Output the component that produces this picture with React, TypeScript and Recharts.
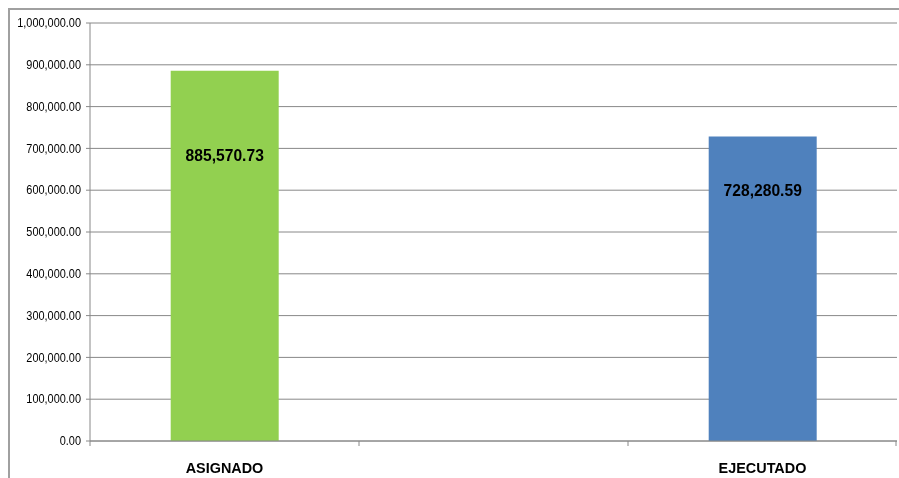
import { BarChart, Bar, XAxis, YAxis, CartesianGrid, Cell, LabelList } from 'recharts';

const categories = ['ASIGNADO', '', 'EJECUTADO'];
const amounts = [885570.73, null, 728280.59];
const barColors = ['#92d050', '#92d050', '#4f81bd'];
const yTicks = [0, 100000, 200000, 300000, 400000, 500000, 600000, 700000, 800000, 900000, 1000000];
const labelOffsets = [84, 0, 53];

const data = categories.map((name, i) => ({ name, value: amounts[i] }));

const font = '"Liberation Sans", Arial, sans-serif';

const fmt = (v: number) =>
    v.toLocaleString('en-US', { minimumFractionDigits: 2, maximumFractionDigits: 2 });

const ValueTick = (props: any) => {
    const { x, y, payload } = props;
    return (
        <g transform={`translate(${x},${y}) scale(0.91,1)`}>
            <text x={0} y={0} textAnchor="end" dominantBaseline="central" fontFamily={font} fontSize={12} fill="#000">
                {fmt(payload.value)}
            </text>
        </g>
    );
};

const CategoryTick = (props: any) => {
    const { x, y, payload, index, visibleTicksCount, width } = props;
    const band = width / visibleTicksCount;
    const last = index === visibleTicksCount - 1;
    return (
        <g>
            <line x1={x - band / 2} x2={x - band / 2} y1={y - 8} y2={y - 3} stroke="#888" />
            {last && <line x1={x + band / 2 - 1} x2={x + band / 2 - 1} y1={y - 8} y2={y - 3} stroke="#888" />}
            <g transform={`translate(${x},${y + 24}) scale(0.93,1)`}>
                <text x={0} y={0} textAnchor="middle" fontFamily={font} fontWeight="bold" fontSize={15.5} fill="#000">
                    {payload.value}
                </text>
            </g>
        </g>
    );
};

const ValueLabel = (props: any) => {
    const { x, y, width, value } = props;
    if (value == null) return null;
    const off = labelOffsets[amounts.indexOf(value)];
    return (
        <g transform={`translate(${x + width / 2},${y + off}) scale(0.92,1)`}>
            <text x={0} y={0} textAnchor="middle" dominantBaseline="central"
                fontFamily={font} fontWeight="bold" fontSize={17} fill="#000">
                {fmt(value)}
            </text>
        </g>
    );
};

export default function App() {
    return (
        <div style={{ position: 'fixed', left: 8, top: 8, borderLeft: '2px solid #a0a0a0', borderTop: '2px solid #a0a0a0', width: 891, height: 480 }}>
            <BarChart width={889} height={470} data={data} margin={{ top: 13, right: 2, bottom: 9, left: 0 }} barCategoryGap="30%">
                <CartesianGrid vertical={false} stroke="#888" />
                <XAxis dataKey="name" height={30} axisLine={{ stroke: '#888' }} tickLine={false} tick={<CategoryTick />} interval={0} />
                <YAxis
                    width={80}
                    domain={[0, 1000000]}
                    ticks={yTicks}
                    axisLine={{ stroke: '#888' }}
                    tickLine={{ stroke: '#888' }}
                    tickSize={4}
                    tickMargin={5}
                    tick={<ValueTick />}
                />
                <Bar dataKey="value" isAnimationActive={false}>
                    {data.map((d, i) => (
                        <Cell key={d.name + i} fill={barColors[i]} />
                    ))}
                    <LabelList dataKey="value" content={<ValueLabel />} />
                </Bar>
            </BarChart>
        </div>
    );
}
